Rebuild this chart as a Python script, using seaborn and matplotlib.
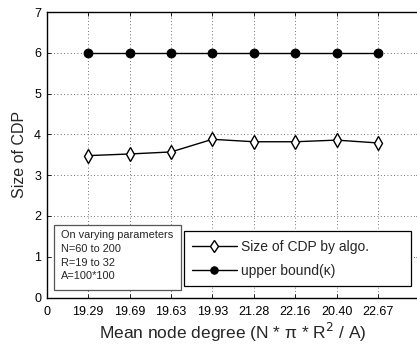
import matplotlib
matplotlib.use("Agg")
import matplotlib.pyplot as plt
from matplotlib.patches import Rectangle
import seaborn as sns
import pandas as pd

sns.set_theme(style="white")
plt.rcParams['font.family'] = ['Liberation Sans', 'DejaVu Sans']

degree_labels = ["19.29", "19.69", "19.63", "19.93", "21.28", "22.16", "20.40", "22.67"]
positions = [1, 2, 3, 4, 5, 6, 7, 8]
cdp_size = [3.48, 3.52, 3.57, 3.88, 3.82, 3.82, 3.86, 3.79]
upper_bound = [6, 6, 6, 6, 6, 6, 6, 6]
series_names = ["Size of CDP by algo.", "upper bound(\u03ba)"]
note_lines = ["On varying parameters", "N=60 to 200", "R=19 to 32", "A=100*100"]

df = pd.DataFrame({
    "x": positions * 2,
    "y": cdp_size + upper_bound,
    "series": [series_names[0]] * len(positions) + [series_names[1]] * len(positions),
})

fig = plt.figure(figsize=(4.17, 3.46), dpi=100)
ax = fig.add_axes([0.112, 0.140, 0.8942, 0.8252])

sns.lineplot(data=df[df.series == series_names[0]], x="x", y="y", ax=ax,
             color="black", lw=1.0, marker="d", markersize=7,
             markerfacecolor="white", markeredgecolor="black", markeredgewidth=1.0,
             label=series_names[0])
sns.lineplot(data=df[df.series == series_names[1]], x="x", y="y", ax=ax,
             color="black", lw=1.0, marker="o", markersize=6.3,
             markerfacecolor="black", markeredgecolor="black",
             label=series_names[1])

ax.set_xlim(0, 9)
ax.set_ylim(0, 7)
ax.set_xticks([0] + positions + [9])
ax.set_xticklabels(["0"] + degree_labels + ["9"], fontsize=9)
ax.set_yticks(range(0, 8))
ax.set_yticklabels([str(i) for i in range(0, 8)], fontsize=9)
ax.tick_params(direction="in", length=3, width=0.6, color="black", top=True, right=True,
               bottom=True, left=True, labelcolor="black")
ax.tick_params(axis="x", pad=6)
ax.tick_params(axis="y", pad=4)
ax.grid(True, linestyle=(0, (1, 3)), color="#444444", linewidth=0.6)
for s in ax.spines.values():
    s.set_color("black")
    s.set_linewidth(1.0)

ax.set_xlabel("Mean node degree (N * \u03c0 * R$^2$ / A)", fontsize=12.5, labelpad=2)
ax.set_ylabel("Size of CDP", fontsize=11.5, labelpad=5)

leg = ax.legend(loc="lower left", bbox_to_anchor=(0.441, 0.1734, 0.544, 0.156),
                bbox_transform=fig.transFigure, mode="expand", borderaxespad=0,
                fontsize=10, handlelength=3.2, handletextpad=0.3, frameon=True,
                fancybox=False, edgecolor="black", framealpha=1, borderpad=0.6,
                labelspacing=0.72, markerscale=0.85)
leg.get_frame().set_linewidth(0.9)

W, H = 417, 346
fig.patches.append(Rectangle((54.3 / W, 1 - 290.3 / H), (180.7 - 54.3) / W, (290.3 - 224.7) / H,
                             transform=fig.transFigure, facecolor="white",
                             edgecolor="#555555", linewidth=0.9, zorder=5))
fig.text(61.0 / W, 1 - 230.5 / H, "\n".join(note_lines),
         fontsize=7.9, va="top", ha="left", linespacing=1.45, zorder=6)

fig.savefig("out.png", dpi=100)
